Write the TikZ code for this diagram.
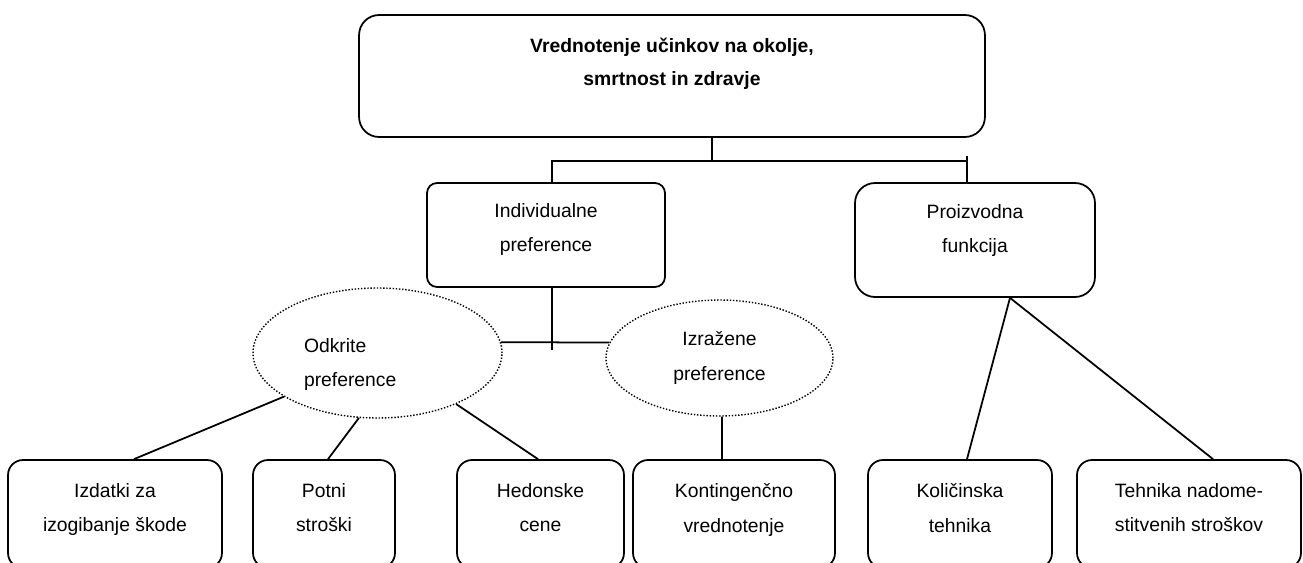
\documentclass[tikz,border=0pt]{standalone}
\usepackage{fontspec}
\setmainfont{Liberation Sans}
\usetikzlibrary{positioning, shapes.geometric, calc}

\begin{document}
\begin{tikzpicture}[x=0.02cm, y=-0.02cm,
        box/.style={rectangle, draw, rounded corners=0.3cm, line width=1pt, align=center, text depth=7.3pt, font=\fontsize{11}{19.8}\selectfont},
        pref/.style={ellipse, draw, line width=0.8pt, densely dotted, font=\fontsize{11}{19.8}\selectfont},
        link/.style={line width=1pt}]
        \useasboundingbox (0,0) rectangle (1303,562);

        %-----Methods-----

        % Valuation box
        \node[box, rounded corners=0.4cm, minimum width=12.52cm, minimum height=2.44cm, text depth=16.5pt, font=\bfseries\fontsize{11}{19}\selectfont] (vred) at (672,76) {Vrednotenje učinkov na okolje,\\smrtnost in zdravje};

        % Individual preferences
        \node[box, rounded corners=0.2cm, minimum width=4.76cm, minimum height=2.08cm, text depth=8.5pt] (ind) at (546,235) {Individualne\\preference};

        % Production function
        \node[box, rounded corners=0.4cm, minimum width=4.8cm, minimum height=2.28cm, text depth=13pt] (pro) at (975,240) {Proizvodna\\funkcija};

        % Revealed preferences
        \node[pref, minimum width=4.98cm, minimum height=2.6cm, text width=2.94cm, align=left, text depth=9pt] (odk) at (377.5,353) {Odkrite\\preference};

        % Stated preferences
        \node[pref, minimum width=4.54cm, minimum height=2.32cm, align=center] (izr) at (719.5,358) {Izražene\\preference};

        %-----Techniques-----
        \node[box, minimum width=4.28cm, minimum height=2.16cm] (izd) at (115,514) {Izdatki za\\izogibanje škode};
        \node[box, minimum width=2.84cm, minimum height=2.16cm] (pot) at (324,514) {Potni\\stroški};
        \node[box, minimum width=3.34cm, minimum height=2.16cm] (hed) at (540.5,514) {Hedonske\\cene};
        \node[box, minimum width=4.04cm, minimum height=2.16cm] (kon) at (734,514) {Kontingenčno\\vrednotenje};
        \node[box, minimum width=3.68cm, minimum height=2.16cm] (kol) at (960,514) {Količinska\\tehnika};
        \node[box, minimum width=4.48cm, minimum height=2.16cm] (teh) at (1189,514) {Tehnika nadome-\\stitvenih stroškov};

        %-----Connections-----

        % Valuation to both branches
        \draw[link] ($(vred.south)+(40,0)$) -- ++(0,23) coordinate (hub);
        \draw[link] ($(ind.north)+(6,0)$) |- (hub) -| ($(pro.north)+(-8,0)$);
        \draw[link] ($(pro.north)+(-8,-26)$) -- ($(pro.north)+(-8,-20)$);

        % Individual preferences to both kinds
        \draw[link] ($(ind.south)+(6,0)$) -- ++(0,62);
        \draw[link] (odk.5) -- (izr.172);

        % Revealed preferences to techniques
        \draw[link] (odk.205) -- ($(izd.north)+(19,0)$);
        \draw[link] (odk.254) -- ($(pot.north)+(4,0)$);
        \draw[link] (odk.327) -- ($(hed.north)+(-2.5,0)$);

        % Stated preferences to technique
        \draw[link] ($(izr.south)+(2.5,0)$) -- ($(kon.north)+(-12,0)$);

        % Production function to techniques
        \draw[link] ($(pro.south)+(35,0)$) -- ($(kol.north)+(7,0)$);
        \draw[link] ($(pro.south)+(35,0)$) -- ($(teh.north)+(24,0)$);

\end{tikzpicture}
\end{document}
